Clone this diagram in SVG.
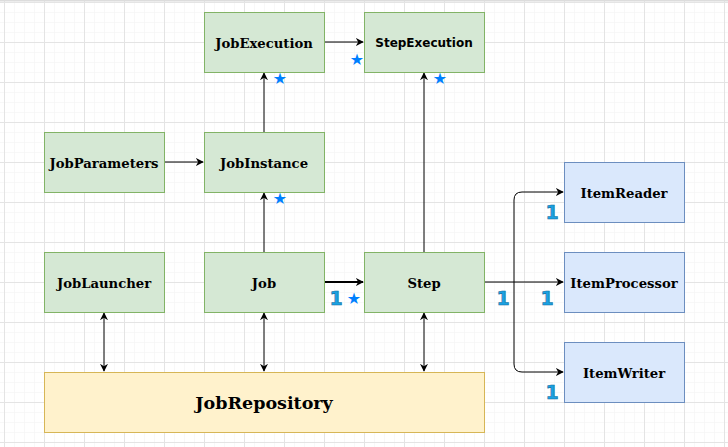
<svg xmlns="http://www.w3.org/2000/svg" width="728" height="447" viewBox="0 0 728 447">
<style>
.g rect{fill:#d5e8d4;stroke:#82b366;stroke-width:1}
.b rect{fill:#dae8fc;stroke:#6c8ebf;stroke-width:1}
.y rect{fill:#fff2cc;stroke:#d6b656;stroke-width:1}
text{font-family:"DejaVu Serif","Liberation Serif",serif;font-weight:bold;font-size:13.2px;fill:#000;text-anchor:middle;dominant-baseline:central}
.sans{font-family:"DejaVu Sans","Liberation Sans",sans-serif;font-size:12px}
.big{font-size:17.5px}
.star{font-family:"DejaVu Sans",sans-serif;font-weight:normal;font-size:16px;fill:#007fff}
.one{font-family:"DejaVu Sans",sans-serif;font-weight:bold;font-size:19px;fill:#1ba1e2;stroke:#0f6fa0;stroke-width:0.6}
#edges path{fill:none;stroke:#000;stroke-width:1}
</style>
<defs>
<pattern id="minor" x="4" y="2" width="10" height="10" patternUnits="userSpaceOnUse">
<path d="M0,0V10M0,0H10" fill="none" stroke="#f2f2f2" stroke-width="1"/>
</pattern>
<pattern id="major" x="4" y="2" width="40" height="40" patternUnits="userSpaceOnUse">
<path d="M0.5,0V40M0,0.5H40" fill="none" stroke="#e4e4e4" stroke-width="1"/>
</pattern>
<marker id="ah" viewBox="0 0 10 10" refX="9" refY="5" markerWidth="8" markerHeight="8" markerUnits="userSpaceOnUse" orient="auto-start-reverse">
<path d="M0,0L10,5L0,10L3,5z" fill="#000"/>
</marker>
</defs>
<rect width="728" height="447" fill="#fff"/>
<rect width="728" height="447" fill="url(#minor)"/>
<rect width="728" height="447" fill="url(#major)"/>
<rect x="0" y="0" width="728" height="1.5" fill="#dcdcdc"/>
<g id="edges">
<path d="M324,42H363" marker-end="url(#ah)"/>
<path d="M264,132V73" marker-end="url(#ah)"/>
<path d="M424,252V73" marker-end="url(#ah)"/>
<path d="M164,162H203" marker-end="url(#ah)"/>
<path d="M264,252V193" marker-end="url(#ah)"/>
<path d="M324,282H363" style="stroke-width:2" marker-end="url(#ah)"/>
<path d="M484,282H563" marker-end="url(#ah)"/>
<path d="M514,282V200Q514,192 522,192H563" marker-end="url(#ah)"/>
<path d="M514,282V364Q514,372 522,372H563" marker-end="url(#ah)"/>
<path d="M104,313V371" marker-start="url(#ah)" marker-end="url(#ah)"/>
<path d="M264,313V371" marker-start="url(#ah)" marker-end="url(#ah)"/>
<path d="M424,313V371" marker-start="url(#ah)" marker-end="url(#ah)"/>
<text class="star" x="280" y="78">★</text>
<text class="star" x="357" y="59">★</text>
<text class="star" x="440" y="78">★</text>
<text class="star" x="280" y="198">★</text>
<text class="star" x="354" y="298">★</text>
<text class="one" x="336" y="298">1</text>
<text class="one" x="503" y="298">1</text>
<text class="one" x="547" y="298">1</text>
<text class="one" x="552" y="212">1</text>
<text class="one" x="552" y="392">1</text>
</g>
<g id="JobExecution" class="g"><rect x="204.5" y="12.5" width="120" height="60"/><text x="264" y="43">JobExecution</text></g>
<g id="StepExecution" class="g"><rect x="364.5" y="12.5" width="120" height="60"/><text class="sans" x="424" y="43">StepExecution</text></g>
<g id="JobParameters" class="g"><rect x="44.5" y="132.5" width="120" height="60"/><text x="104" y="163">JobParameters</text></g>
<g id="JobInstance" class="g"><rect x="204.5" y="132.5" width="120" height="60"/><text x="264" y="163">JobInstance</text></g>
<g id="JobLauncher" class="g"><rect x="44.5" y="252.5" width="120" height="60"/><text x="104" y="283">JobLauncher</text></g>
<g id="Job" class="g"><rect x="204.5" y="252.5" width="120" height="60"/><text x="264" y="283">Job</text></g>
<g id="Step" class="g"><rect x="364.5" y="252.5" width="120" height="60"/><text x="424" y="283">Step</text></g>
<g id="ItemReader" class="b"><rect x="564.5" y="162.5" width="120" height="60"/><text x="624" y="193">ItemReader</text></g>
<g id="ItemProcessor" class="b"><rect x="564.5" y="252.5" width="120" height="60"/><text x="624" y="283">ItemProcessor</text></g>
<g id="ItemWriter" class="b"><rect x="564.5" y="342.5" width="120" height="60"/><text x="624" y="373">ItemWriter</text></g>
<g id="JobRepository" class="y"><rect x="44.5" y="372.5" width="440" height="60"/><text class="big" x="264" y="403">JobRepository</text></g>
</svg>
